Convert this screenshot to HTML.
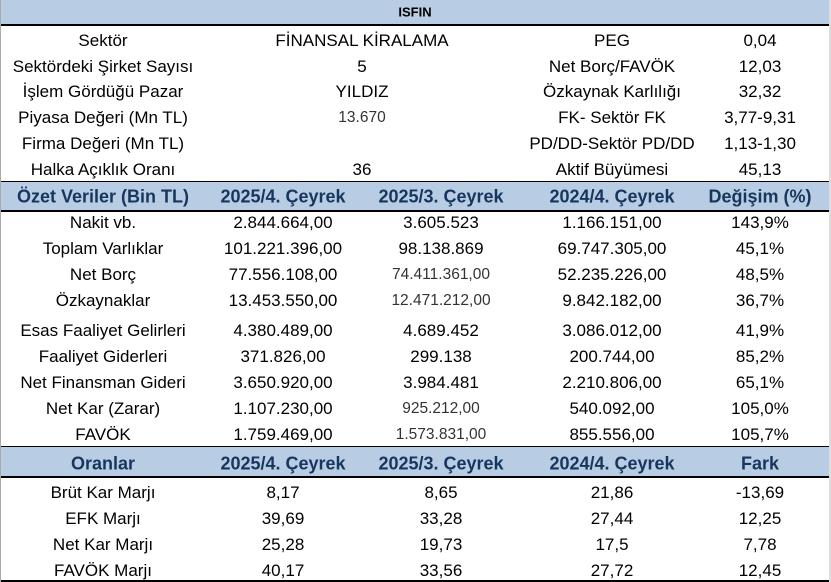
<!DOCTYPE html>
<html><head><meta charset="utf-8"><style>
body{margin:0;width:831px;height:582px;background:#fff;position:relative;overflow:hidden;font-family:"Liberation Sans",sans-serif;}
.b{position:absolute;left:0;width:831px;background:#b8cce4;}
.l{position:absolute;left:0;width:831px;background:#000;}
.r{position:absolute;left:0;width:831px;height:0;}
.r div{position:absolute;transform:translate(-50%,-50%);white-space:nowrap;font-size:17px;color:#000;top:1px;}
.r div:nth-child(1){left:103px}
.d div:nth-child(2){left:283px}.d div:nth-child(3){left:441px}.d div:nth-child(4){left:612px}.d div:nth-child(5){left:760px}
.s div:nth-child(2){left:362px}.s div:nth-child(3){left:612px}.s div:nth-child(4){left:760px}
.h div{font-weight:bold;font-size:18px;color:#17365d;}
.r div.g{color:#333;font-size:15.5px;}
</style></head><body>
<div class="b" style="top:0;height:24px"></div>
<div class="l" style="top:24px;height:2px"></div>
<div class="b" style="top:182px;height:28px"></div>
<div class="l" style="top:181px;height:1px"></div>
<div class="l" style="top:210px;height:2px"></div>
<div class="b" style="top:447px;height:29px"></div>
<div class="l" style="top:446px;height:1px"></div>
<div class="l" style="top:476px;height:2px"></div>
<div class="l" style="top:580px;height:2px"></div>
<div style="position:absolute;left:0;top:0;width:1px;height:582px;background:#aaa"></div>
<div style="position:absolute;left:829px;top:0;width:2px;height:582px;background:#ddd"></div>
<div style="position:absolute;left:415px;top:12px;transform:translate(-50%,-50%);font-weight:bold;font-size:13px">ISFIN</div>

<div class="r s" style="top:40px"><div>Sektör</div><div>FİNANSAL KİRALAMA</div><div>PEG</div><div>0,04</div></div>
<div class="r s" style="top:66px"><div>Sektördeki Şirket Sayısı</div><div>5</div><div>Net Borç/FAVÖK</div><div>12,03</div></div>
<div class="r s" style="top:91px"><div>İşlem Gördüğü Pazar</div><div>YILDIZ</div><div>Özkaynak Karlılığı</div><div>32,32</div></div>
<div class="r s" style="top:117px"><div>Piyasa Değeri (Mn TL)</div><div class="g">13.670</div><div>FK- Sektör FK</div><div>3,77-9,31</div></div>
<div class="r s" style="top:143px"><div>Firma Değeri (Mn TL)</div><div></div><div>PD/DD-Sektör PD/DD</div><div>1,13-1,30</div></div>
<div class="r s" style="top:169px"><div>Halka Açıklık Oranı</div><div>36</div><div>Aktif Büyümesi</div><div>45,13</div></div>

<div class="r d h" style="top:196px"><div>Özet Veriler (Bin TL)</div><div>2025/4. Çeyrek</div><div>2025/3. Çeyrek</div><div>2024/4. Çeyrek</div><div>Değişim (%)</div></div>
<div class="r d" style="top:222px"><div>Nakit vb.</div><div>2.844.664,00</div><div>3.605.523</div><div>1.166.151,00</div><div>143,9%</div></div>
<div class="r d" style="top:248px"><div>Toplam Varlıklar</div><div>101.221.396,00</div><div>98.138.869</div><div>69.747.305,00</div><div>45,1%</div></div>
<div class="r d" style="top:274px"><div>Net Borç</div><div>77.556.108,00</div><div class="g">74.411.361,00</div><div>52.235.226,00</div><div>48,5%</div></div>
<div class="r d" style="top:300px"><div>Özkaynaklar</div><div>13.453.550,00</div><div class="g">12.471.212,00</div><div>9.842.182,00</div><div>36,7%</div></div>
<div class="r d" style="top:330px"><div>Esas Faaliyet Gelirleri</div><div>4.380.489,00</div><div>4.689.452</div><div>3.086.012,00</div><div>41,9%</div></div>
<div class="r d" style="top:356px"><div>Faaliyet Giderleri</div><div>371.826,00</div><div>299.138</div><div>200.744,00</div><div>85,2%</div></div>
<div class="r d" style="top:382px"><div>Net Finansman Gideri</div><div>3.650.920,00</div><div>3.984.481</div><div>2.210.806,00</div><div>65,1%</div></div>
<div class="r d" style="top:408px"><div>Net Kar (Zarar)</div><div>1.107.230,00</div><div class="g">925.212,00</div><div>540.092,00</div><div>105,0%</div></div>
<div class="r d" style="top:434px"><div>FAVÖK</div><div>1.759.469,00</div><div class="g">1.573.831,00</div><div>855.556,00</div><div>105,7%</div></div>

<div class="r d h" style="top:463px"><div>Oranlar</div><div>2025/4. Çeyrek</div><div>2025/3. Çeyrek</div><div>2024/4. Çeyrek</div><div>Fark</div></div>
<div class="r d" style="top:492px"><div>Brüt Kar Marjı</div><div>8,17</div><div>8,65</div><div>21,86</div><div>-13,69</div></div>
<div class="r d" style="top:518px"><div>EFK Marjı</div><div>39,69</div><div>33,28</div><div>27,44</div><div>12,25</div></div>
<div class="r d" style="top:544px"><div>Net Kar Marjı</div><div>25,28</div><div>19,73</div><div>17,5</div><div>7,78</div></div>
<div class="r d" style="top:570px"><div>FAVÖK Marjı</div><div>40,17</div><div>33,56</div><div>27,72</div><div>12,45</div></div>
</body></html>
